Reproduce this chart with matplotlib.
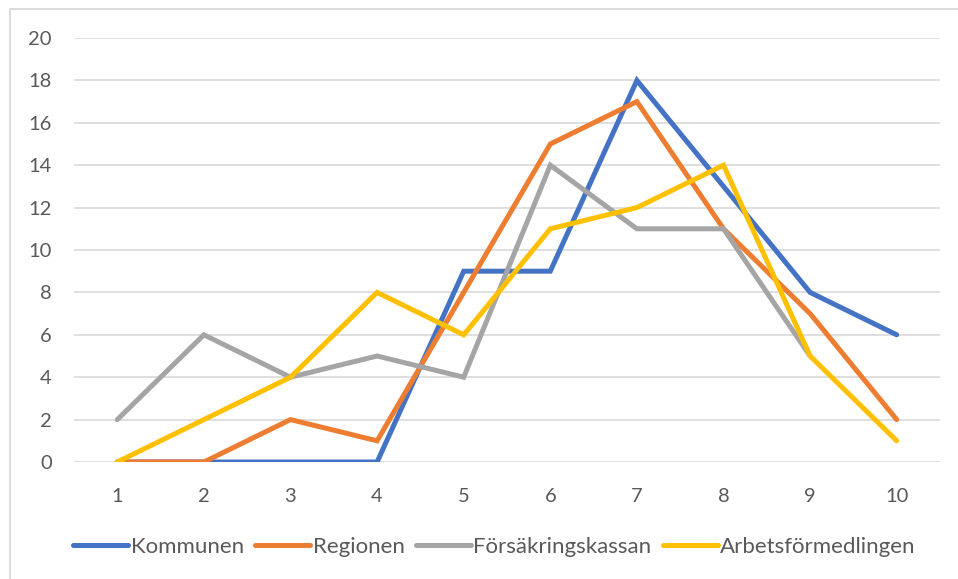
import matplotlib.pyplot as plt
from matplotlib.patches import Rectangle
import numpy as np

# Dati
categorie = [1, 2, 3, 4, 5, 6, 7, 8, 9, 10]
kommunen = [0, 0, 0, 0, 9, 9, 18, 13, 8, 6]
regionen = [0, 0, 2, 1, 8, 15, 17, 11, 7, 2]
forsakringskassan = [2, 6, 4, 5, 4, 14, 11, 11, 5, np.nan]
arbetsformedlingen = [0, 2, 4, 8, 6, 11, 12, 14, 5, 1]

serie = [
    ("Kommunen", kommunen, "#4472C4"),
    ("Regionen", regionen, "#ED7D31"),
    ("Försäkringskassan", forsakringskassan, "#A5A5A5"),
    ("Arbetsförmedlingen", arbetsformedlingen, "#FFC000"),
]

plt.rcParams['font.family'] = ['Lato', 'DejaVu Sans']

fig = plt.figure(figsize=(9.58, 5.79), dpi=100)
ax = fig.add_axes([74 / 958, 1 - 462 / 579, 866 / 958, 424 / 579])

# Bordo del riquadro del grafico
fig.patches.append(Rectangle((10 / 958, -0.5), 2, 0.5 + (1 - 9 / 579),
                             transform=fig.transFigure, fill=False,
                             edgecolor="#D9D9D9", linewidth=1.3))

for nome, valori, colore in serie:
    ax.plot(categorie, valori, color=colore, linewidth=3.6, label=nome,
            solid_capstyle='round', solid_joinstyle='miter')

ax.set_xlim(0.5, 10.5)
ax.set_ylim(0, 20)
ax.set_yticks(range(0, 21, 2))
ax.set_xticks(categorie)
ax.grid(axis='y', color="#D9D9D9", linewidth=1.2)
ax.set_axisbelow(True)
for s in ax.spines.values():
    s.set_visible(False)
ax.tick_params(length=0, labelsize=14.5, labelcolor="#595959")
ax.tick_params(axis='x', pad=19)
ax.tick_params(axis='y', pad=16)

fig.legend(loc='center', bbox_to_anchor=(0.516, 1 - 547 / 579), ncol=4,
           frameon=False, fontsize=16, handlelength=2.5, handletextpad=0.1,
           columnspacing=0.5, labelcolor="#595959")

fig.savefig("out.png", dpi=100)
